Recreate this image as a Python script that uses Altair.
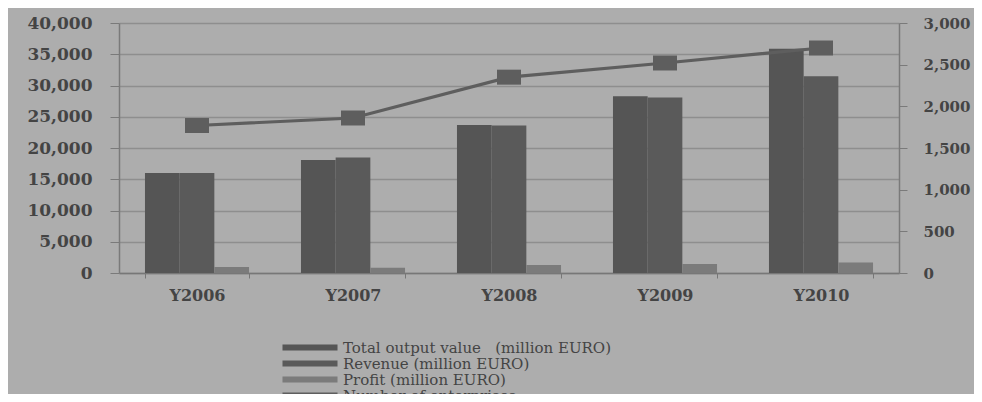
import altair as alt
import pandas as pd

years = ["Y2006", "Y2007", "Y2008", "Y2009", "Y2010"]
series_names = [
    "Total output value\u00a0\u00a0 (million EURO)",
    "Revenue (million EURO)",
    "Profit (million EURO)",
]
line_name = "Number of enterprises"

total_output = [16000, 18100, 23700, 28300, 35900]
revenue = [16000, 18500, 23600, 28100, 31500]
profit = [950, 850, 1280, 1450, 1700]
enterprises = [1770, 1860, 2350, 2520, 2700]

bar_rows = []
for i, y in enumerate(years):
    for name, vals in zip(series_names, [total_output, revenue, profit]):
        bar_rows.append({"year": y, "series": name, "value": vals[i]})
bars_df = pd.DataFrame(bar_rows)
line_df = pd.DataFrame({"year": years, "series": [line_name] * 5, "count": enterprises})

all_series = series_names + [line_name]
color_scale = alt.Scale(domain=all_series,
                        range=["#555555", "#5a5a5a", "#7b7b7b", "#5e5e5e"])

FONT = "DejaVu Serif"
TXT = "#444444"
legend = alt.Legend(
    title=None, orient="none", legendX=160, legendY=317, direction="vertical",
    symbolType="M-0.8,-0.6L10.2,-0.6L10.2,0.6L-0.8,0.6Z", symbolSize=100,
    symbolStrokeWidth=0, labelOffset=49, labelFont=FONT, labelFontSize=15,
    labelColor=TXT, labelLimit=600, rowPadding=0,
)

x_enc = alt.X("year:N", sort=years, title=None,
              scale=alt.Scale(paddingInner=0.333, paddingOuter=0.1665),
              axis=alt.Axis(labelAngle=0, labelFont=FONT, labelFontSize=16,
                            labelFontWeight="bold",
                            labelColor=TXT, labelPadding=9, tickBand="extent",
                            tickSize=5, tickColor="#777777", domainColor="#777777",
                            domainWidth=1.5, grid=False))

bars = alt.Chart(bars_df).mark_bar().encode(
    x=x_enc,
    xOffset=alt.XOffset("series:N", sort=series_names,
                        scale=alt.Scale(domain=series_names, paddingInner=0, paddingOuter=0)),
    y=alt.Y("value:Q", title=None,
            scale=alt.Scale(domain=[0, 40000], nice=False),
            axis=alt.Axis(values=list(range(0, 40001, 5000)), format=",d",
                          labelFont=FONT, labelFontSize=17, labelFontWeight="bold",
                          labelColor=TXT,
                          labelPadding=18, tickSize=9, tickColor="#7a7a7a",
                          domainColor="#7a7a7a", domainWidth=1.5,
                          grid=True, gridColor="#8e8e8e", gridWidth=1.6)),
    color=alt.Color("series:N", scale=color_scale, legend=legend),
)

y_right = alt.Y("count:Q", title=None,
                scale=alt.Scale(domain=[0, 3000], nice=False),
                axis=alt.Axis(orient="right", values=list(range(0, 3001, 500)), format=",d",
                              labelFont=FONT, labelFontSize=15, labelFontWeight="bold",
                              labelColor=TXT,
                              labelPadding=16, tickSize=8, tickColor="#7a7a7a",
                              domainColor="#7a7a7a", domainWidth=1.5, grid=False))

line = alt.Chart(line_df).mark_line(strokeWidth=3.2).encode(
    x=alt.X("year:N", sort=years),
    y=y_right,
    color=alt.Color("series:N", scale=color_scale, legend=legend),
)
points = alt.Chart(line_df).mark_point(
    filled=True, opacity=1, shape="M-1.6,-1L1.6,-1L1.6,1L-1.6,1Z", size=225,
).encode(
    x=alt.X("year:N", sort=years),
    y=y_right,
    color=alt.Color("series:N", scale=color_scale, legend=legend),
)

right = alt.layer(line, points)

chart = alt.layer(bars, right).resolve_scale(y="independent").properties(
    width=780, height=250,
    autosize=alt.AutoSizeParams(type="none"),
    padding={"left": 111, "top": 15, "right": 75, "bottom": 121},
    background="#adadad",
).configure_view(stroke=None, fill="#adadad")

chart.save("out.html", embed_options={"renderer": "svg", "actions": False})
